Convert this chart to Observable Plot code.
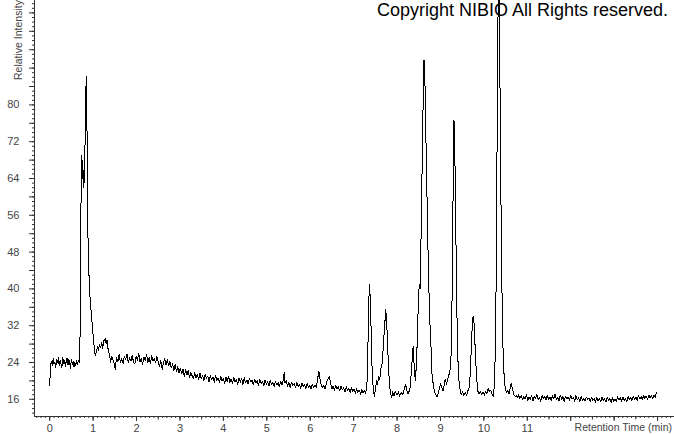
<!DOCTYPE html>
<html>
<head>
<meta charset="utf-8">
<script src="https://cdn.jsdelivr.net/npm/d3@7"></script>
<script src="https://cdn.jsdelivr.net/npm/@observablehq/plot@0.6"></script>
<style>
  html, body { margin: 0; padding: 0; background: white; }
  #chart svg { display: block; }
</style>
</head>
<body>
<div id="chart"></div>
<script>
// Retention time (min) and relative intensity
const trace = [
  [0.00,19.0],[0.02,23.6],[0.04,24.3],[0.06,23.4],[0.08,24.8],[0.10,23.6],[0.12,24.1],[0.14,23.0],[0.16,24.7],[0.18,24.0],
  [0.20,25.0],[0.22,23.3],[0.24,24.4],[0.26,23.7],[0.28,22.9],[0.30,25.1],[0.32,23.8],[0.34,24.5],[0.36,23.2],[0.38,24.2],
  [0.40,25.0],[0.42,23.4],[0.44,24.6],[0.46,23.9],[0.48,22.8],[0.50,24.7],[0.52,23.5],[0.54,24.3],[0.56,23.1],[0.58,24.0],
  [0.60,23.3],[0.62,24.5],[0.64,23.6],[0.66,24.4],[0.68,24.0],[0.70,30.0],[0.71,45.0],
  [0.73,69.1],[0.75,64.0],[0.76,68.0],[0.78,62.0],[0.80,64.0],[0.82,75.0],[0.84,86.1],[0.85,80.0],[0.86,74.0],[0.88,52.0],
  [0.90,44.0],[0.93,38.0],[0.96,34.4],[1.00,30.0],[1.03,26.8],[1.05,25.5],[1.07,26.2],[1.10,27.4],[1.12,26.6],[1.15,28.0],
  [1.17,27.2],[1.20,28.3],[1.22,27.0],[1.25,28.8],[1.28,29.2],[1.30,28.0],[1.32,28.9],[1.35,26.5],[1.38,25.8],
  [1.40,24.0],[1.43,25.3],[1.46,24.4],[1.49,23.6],[1.51,22.5],[1.54,25.1],[1.57,24.2],[1.60,25.7],[1.63,24.0],[1.66,24.8],
  [1.69,23.8],[1.72,25.4],[1.75,24.6],[1.78,25.9],[1.81,23.9],[1.84,25.0],[1.87,24.3],[1.90,25.6],[1.93,24.1],[1.96,23.7],
  [1.99,25.3],[2.02,24.5],[2.05,26.0],[2.08,24.2],[2.11,24.9],[2.14,23.6],[2.17,25.2],[2.20,24.4],[2.23,25.8],[2.26,24.0],
  [2.29,25.1],[2.32,23.8],[2.35,25.5],[2.38,24.3],[2.41,24.9],[2.44,23.9],[2.47,25.3],[2.50,24.0],[2.53,23.2],[2.56,24.4],
  [2.59,22.5],[2.62,23.9],[2.65,24.9],[2.68,23.5],[2.71,24.6],[2.74,23.3],[2.77,24.2],[2.80,22.8],[2.83,23.7],[2.86,22.3],
  [2.89,23.6],[2.92,22.0],[2.95,23.1],[2.98,21.7],[3.01,22.8],[3.04,21.5],[3.07,22.5],[3.10,21.0],[3.13,22.4],[3.16,21.3],
  [3.19,22.2],[3.22,20.7],[3.25,21.9],[3.28,21.1],[3.31,20.5],[3.34,21.8],[3.37,20.6],[3.40,21.5],[3.43,20.3],[3.46,21.7],
  [3.49,20.5],[3.52,21.2],[3.55,20.0],[3.58,21.4],[3.61,20.6],[3.64,21.0],[3.67,19.8],[3.70,21.1],[3.73,20.2],[3.76,20.9],
  [3.79,19.7],[3.82,21.2],[3.85,20.1],[3.88,20.6],[3.91,19.6],[3.94,20.9],[3.97,20.0],[4.00,20.6],[4.03,19.5],[4.06,20.8],
  [4.09,19.9],[4.12,21.0],[4.15,19.6],[4.18,20.4],[4.21,19.4],[4.24,20.7],[4.27,19.8],[4.30,20.3],[4.33,19.3],[4.36,20.6],
  [4.39,19.7],[4.42,20.5],[4.45,19.2],[4.48,20.7],[4.51,19.6],[4.54,20.2],[4.57,19.3],[4.60,20.5],[4.63,19.8],[4.66,20.1],
  [4.69,19.1],[4.72,20.4],[4.75,19.5],[4.78,20.0],[4.81,19.0],[4.84,20.3],[4.87,19.4],[4.90,19.9],[4.93,18.9],[4.96,20.2],
  [4.99,19.3],[5.02,19.8],[5.05,18.9],[5.08,20.1],[5.11,19.2],[5.14,19.7],[5.17,18.8],[5.20,19.9],[5.23,19.1],[5.26,19.6],
  [5.29,18.7],[5.32,19.8],[5.35,19.2],[5.38,20.3],[5.40,21.8],[5.42,19.5],[5.45,20.0],[5.48,18.8],[5.51,19.6],[5.54,18.6],
  [5.57,19.7],[5.60,19.0],[5.63,19.4],[5.66,18.5],[5.69,19.6],[5.72,18.8],[5.75,19.3],[5.78,18.4],[5.81,19.5],[5.84,18.7],
  [5.87,19.2],[5.90,18.3],[5.93,19.4],[5.96,18.6],[5.99,19.1],[6.02,18.2],[6.05,19.3],[6.08,18.5],[6.11,19.0],[6.14,18.6],
  [6.17,20.4],[6.20,22.1],[6.22,20.6],[6.25,19.2],[6.28,18.5],[6.31,19.1],[6.34,18.3],[6.37,19.4],[6.40,20.3],[6.44,21.0],
  [6.47,19.4],[6.50,18.3],[6.53,18.9],[6.56,18.0],[6.59,19.0],[6.62,18.2],[6.65,18.7],[6.68,17.8],[6.71,18.9],[6.74,18.1],
  [6.77,18.5],[6.80,17.6],[6.83,18.7],[6.86,17.9],[6.89,18.4],[6.92,17.4],[6.95,18.5],[6.98,17.7],[7.01,18.2],[7.04,17.3],
  [7.07,18.3],[7.10,17.5],[7.13,18.0],[7.16,17.1],[7.19,18.1],[7.22,17.4],[7.25,17.9],[7.28,17.3],[7.31,20.0],[7.34,32.0],
  [7.36,41.0],[7.37,40.5],[7.39,36.0],[7.41,28.0],[7.43,21.0],[7.46,17.5],[7.48,16.6],[7.50,18.2],[7.53,20.0],[7.55,19.2],
  [7.58,21.0],[7.60,20.3],[7.63,22.7],[7.66,24.0],[7.70,30.0],[7.74,35.5],[7.76,33.0],[7.79,26.0],[7.82,20.0],[7.85,17.2],
  [7.88,16.4],[7.90,17.6],[7.93,16.8],[7.96,17.8],[8.00,16.9],[8.03,17.6],[8.06,16.7],[8.10,17.5],[8.13,17.0],[8.17,18.4],
  [8.20,19.2],[8.22,18.0],[8.25,17.2],[8.28,17.8],[8.30,18.6],[8.33,22.0],[8.37,27.5],[8.39,24.0],[8.42,20.0],[8.45,24.0],
  [8.48,34.0],[8.51,41.0],[8.53,40.0],[8.56,55.0],[8.59,75.0],[8.62,89.8],[8.63,89.5],[8.65,82.0],[8.67,70.0],[8.69,60.0],
  [8.72,45.0],[8.75,34.0],[8.78,28.0],[8.80,22.0],[8.83,19.5],[8.86,17.6],[8.89,17.0],[8.92,16.6],[8.95,17.4],[8.98,18.4],
  [9.00,19.5],[9.03,18.6],[9.06,17.8],[9.08,18.9],[9.11,20.4],[9.14,19.2],[9.17,20.5],[9.20,21.5],[9.23,22.7],[9.25,27.0],
  [9.27,40.0],[9.29,60.0],[9.31,76.7],[9.32,75.5],[9.34,64.0],[9.36,48.0],[9.38,34.0],[9.40,25.0],[9.43,19.5],[9.46,17.6],
  [9.48,17.0],[9.51,17.6],[9.54,16.8],[9.57,17.4],[9.60,16.9],[9.63,17.8],[9.66,18.6],[9.69,22.0],[9.72,30.0],[9.75,34.0],
  [9.77,33.2],[9.80,27.0],[9.83,21.0],[9.86,17.8],[9.89,17.2],[9.92,17.8],[9.95,17.0],[9.98,17.6],[10.01,16.9],[10.04,17.8],
  [10.07,17.3],[10.10,18.4],[10.13,17.6],[10.16,18.0],[10.19,17.0],[10.22,16.7],[10.25,20.0],[10.28,40.0],[10.31,80.0],[10.33,105.0],
  [10.35,104.0],[10.37,85.0],[10.40,52.0],[10.43,30.0],[10.46,22.0],[10.49,18.5],[10.52,17.4],[10.55,18.0],[10.58,17.2],[10.61,18.6],
  [10.63,19.5],[10.66,18.2],[10.69,17.0],[10.72,16.6],[10.75,16.8],[10.78,16.4],
  [10.80,17.0],[10.83,16.2],[10.86,16.8],[10.89,15.9],[10.92,16.6],[10.95,16.1],[10.98,17.0],[11.01,15.8],[11.04,16.5],[11.07,16.0],
  [11.10,16.9],[11.13,15.7],[11.16,16.6],[11.19,16.2],[11.22,17.0],[11.25,15.9],[11.28,16.4],[11.31,15.6],[11.34,16.8],[11.37,16.1],
  [11.40,16.7],[11.43,15.8],[11.46,16.9],[11.49,16.0],[11.52,16.5],[11.55,15.7],[11.58,16.8],[11.61,16.2],[11.64,17.1],[11.67,15.9],
  [11.70,16.4],[11.73,15.6],[11.76,16.9],[11.79,16.0],[11.82,16.6],[11.85,15.5],[11.88,16.7],[11.91,16.1],[11.94,16.5],[11.97,15.8],
  [12.00,16.9],[12.03,16.0],[12.06,16.4],[12.09,15.6],[12.12,16.8],[12.15,15.9],[12.18,16.3],[12.21,15.5],[12.24,16.6],[12.27,15.8],
  [12.30,16.2],[12.33,15.6],[12.36,16.5],[12.39,15.9],[12.42,16.3],[12.45,15.5],[12.48,16.4],[12.51,15.8],[12.54,16.1],[12.57,15.4],
  [12.60,16.5],[12.63,15.7],[12.66,16.2],[12.69,15.5],[12.72,16.4],[12.75,15.8],[12.78,16.1],[12.81,15.4],[12.84,16.5],[12.87,15.7],
  [12.90,16.2],[12.93,15.3],[12.96,16.3],[12.99,15.6],[13.02,16.1],[13.05,15.5],[13.08,16.6],[13.11,15.8],[13.14,16.3],[13.17,15.6],
  [13.20,16.5],[13.23,15.7],[13.26,16.2],[13.29,15.5],[13.32,16.6],[13.35,15.9],[13.38,16.4],[13.41,15.7],[13.44,16.7],[13.47,16.0],
  [13.50,16.5],[13.53,15.8],[13.56,16.8],[13.59,16.1],[13.62,16.6],[13.65,15.9],[13.68,16.9],[13.71,16.2],[13.74,16.7],[13.77,16.0],
  [13.80,16.9],[13.83,16.3],[13.86,16.8],[13.89,16.1],[13.92,16.9],[13.95,16.4],[13.97,17.4]
];

// Axis tick labels
const xTickLabels = [0, 1, 2, 3, 4, 5, 6, 7, 8, 9, 10, 11];
const yTickLabels = [16, 24, 32, 40, 48, 56, 64, 72, 80];

// Texts
const xTitle = "Retention Time (min)";
const yTitle = "Relative Intensity";
const copyright = "Copyright NIBIO All Rights reserved.";

const xDomain = [-0.35, 14.39];
const yDomain = [12.26, 102.7];

const data = trace.map(([t, v]) => ({t, v}));

const xMinor = d3.range(-3, 144).map(i => i / 10);
const xHalf = d3.range(0, 29).map(i => i / 2);
const xMajor = d3.range(0, 15);
const yMinor = d3.range(13, 103);
const yMajor = d3.range(16, 101, 4);

const fontFamily = "'Liberation Sans', Arial, sans-serif";

const chart = Plot.plot({
  width: 674,
  height: 434,
  marginLeft: 34,
  marginRight: 0,
  marginTop: 0,
  marginBottom: 18,
  x: {domain: xDomain},
  y: {domain: yDomain},
  style: {fontFamily, fontSize: "11px", color: "#444", background: "white", overflow: "visible"},
  marks: [
    Plot.ruleX([xDomain[0]], {stroke: "#333"}),
    Plot.ruleY([yDomain[0]], {stroke: "#333"}),
    Plot.axisX(xMinor, {tickSize: 2, tickFormat: () => "", label: null, stroke: "#333"}),
    Plot.axisX(xHalf, {tickSize: 3.5, tickFormat: () => "", label: null, stroke: "#333"}),
    Plot.axisX(xMajor, {tickSize: 5, tickPadding: 3, tickFormat: d => xTickLabels.includes(d) ? String(d) : "", label: null, stroke: "#333", fill: "#444"}),
    Plot.axisY(yMinor, {tickSize: 2, tickFormat: () => "", label: null, stroke: "#333"}),
    Plot.axisY(yMajor, {tickSize: 5, tickPadding: 10, tickFormat: d => yTickLabels.includes(d) ? String(d) : "", label: null, stroke: "#333", fill: "#444"}),
    Plot.line(data, {x: "t", y: "v", stroke: "black", strokeWidth: 1, clip: true, shapeRendering: "crispEdges"})
  ]
});

const svg = d3.select(chart);
svg.append("text")
  .attr("x", 672).attr("y", 431)
  .attr("text-anchor", "end")
  .attr("fill", "#444")
  .style("font-family", fontFamily).style("font-size", "10.5px")
  .text(xTitle);
svg.append("text")
  .attr("transform", "translate(22,80) rotate(-90)")
  .attr("text-anchor", "start")
  .attr("fill", "#444")
  .style("font-family", fontFamily).style("font-size", "10.5px")
  .text(yTitle);
svg.append("text")
  .attr("x", 377).attr("y", 15.5)
  .attr("text-anchor", "start")
  .attr("fill", "black")
  .style("font-family", fontFamily).style("font-size", "18px")
  .text(copyright);

document.getElementById("chart").appendChild(chart);
</script>
</body>
</html>
